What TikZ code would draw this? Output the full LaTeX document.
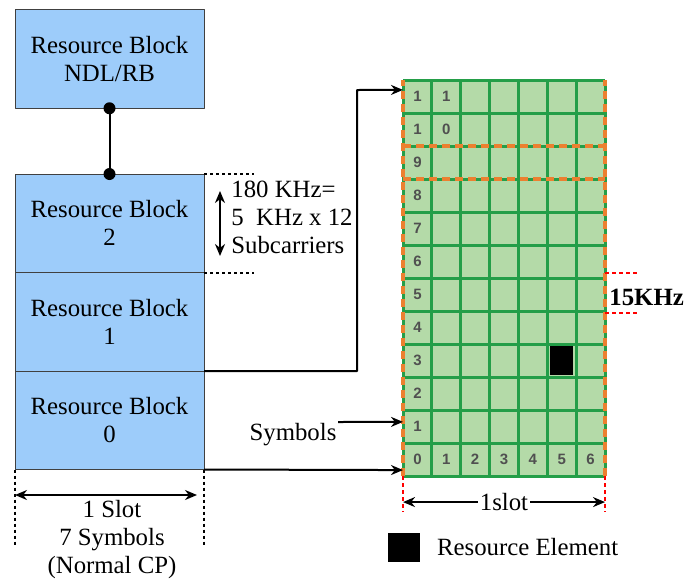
\documentclass[tikz,border=0pt]{standalone}
\usepackage{fontspec}
\setmainfont{Liberation Serif}
\newfontfamily\numfont{Liberation Sans}
\usetikzlibrary{positioning,arrows.meta}
\definecolor{rbblue}{RGB}{157,204,250}
\definecolor{cellgreen}{RGB}{180,218,168}
\definecolor{linegreen}{RGB}{36,158,72}
\definecolor{dashorange}{RGB}{236,128,48}
\definecolor{numgray}{RGB}{80,80,80}
\begin{document}
\begin{tikzpicture}[x=0.5pt, y=-0.5pt, >={Stealth[length=6pt,width=5pt]}, line join=round,
	font=\fontsize{12.4}{14}\selectfont,
	rbbox/.style={draw=black!75, fill=rbblue, minimum width=94.5pt, minimum height=49.25pt,
		inner sep=0pt, outer sep=0pt, align=center},
	conn/.style={line width=1pt},
	blackdot/.style={line width=1pt, dash pattern=on 1.5pt off 1.5pt},
	reddot/.style={red, line width=0.9pt, dash pattern=on 2pt off 1.5pt},
	orangedash/.style={dashorange, line width=1.6pt, dash pattern=on 4pt off 2.5pt},
	num/.style={text=numgray, font=\numfont\bfseries\fontsize{7.5}{7.5}\selectfont}]
	\useasboundingbox (0,0) rectangle (685,579);
	% resource blocks
	\node[rbbox] (rbn) at (109.5,59) {Resource Block\\NDL/RB};
	\node[rbbox] (rb2) at (109.5,223.25) {Resource Block\\2};
	\node[rbbox, below=0pt of rb2] (rb1) {Resource Block\\1};
	\node[rbbox, below=0pt of rb1] (rb0) {Resource Block\\0};
	\draw[conn] (rbn.south)--(rb2.north);
	\foreach \p in {rbn.south,rb2.north} \fill (\p) circle(3pt);
	% bandwidth of one block
	\draw[blackdot] (rb2.north east)--++(50,0);
	\draw[blackdot] (rb1.north east)--++(50,0);
	\path
	(220,191)coordinate(bwtop)
	(220,256)coordinate(bwbot)
	;
	\draw[conn,<->] (bwtop)--(bwbot);
	\node[anchor=west, align=left, inner sep=0pt] (bw) at (231,217) {180 KHz=\\5~~KHz x 12\\Subcarriers};
	% resource grid, one cell per unit
	\begin{scope}[shift={(403,476)}, x=14.43pt, y=16.5pt]
		\fill[cellgreen] (0,0) rectangle (7,12);
		\foreach \x in {0,...,7} \draw[linegreen, line width=1.5pt] (\x,0)--(\x,12);
		\foreach \y in {0,...,12} \draw[linegreen, line width=1.5pt] (0,\y)--(7,\y);
		\foreach \r in {0,...,9} \node[num] (row\r) at (0.5,\r+0.5) {\r};
		\foreach \c in {1,...,6} \node[num] (col\c) at (\c+0.5,0.5) {\c};
		\node[num] (row10) at (0.5,10.5) {1};
		\node[num] (row10b) at (1.5,10.5) {0};
		\node[num] (row11) at (0.5,11.5) {1};
		\node[num] (row11b) at (1.5,11.5) {1};
		\fill[black] (5.1,3.05) rectangle (5.9,3.95);
		\foreach \y in {9,10} \draw[orangedash] (0,\y)--(7,\y);
		\foreach \x in {0,7} \draw[orangedash] (\x,0)--(\x,12);
		\path
		(0,11.7)coordinate(gtop)
		(0,1.64)coordinate(gsym)
		(0,0.18)coordinate(gbot)
		(0,0)coordinate(gsw)
		(7,0)coordinate(gse)
		(0,-0.79)coordinate(slw)
		(7,-0.79)coordinate(sle)
		(7,6.15)coordinate(kup)
		(7,4.94)coordinate(kdn)
		;
	\end{scope}
	% links from the blocks to the grid
	\path
	(357,90)coordinate(turn)
	(338,422)coordinate(symtail)
	;
	\draw[conn,->] (rb1.south east)-|(turn)--(gtop);
	\draw[conn,->] (rb0.south east)--(gbot);
	\node (sym) at (293,435) {Symbols};
	\draw[conn,->] (symtail)--(gsym);
	% subcarrier spacing
	\draw[reddot] (kup)--++(33,0);
	\draw[reddot] (kdn)--++(33,0);
	\node[anchor=west, inner sep=0pt, font=\fontsize{12.4}{14}\selectfont\bfseries] (khz) at (609,297) {15KHz};
	% slot widths
	\draw[reddot] (gsw)--++(0,36);
	\draw[reddot] (gse)--++(0,36);
	\draw[conn,<->] (slw)--(sle) node[midway, fill=white, inner sep=1pt] (slotr) {1slot};
	\draw[blackdot] (rb0.south west)--++(0,78);
	\draw[blackdot] (rb0.south east)--++(0,78);
	\path
	(15,495)coordinate(sl)
	(197,495)coordinate(sr)
	;
	\draw[conn,<->] (sl)--(sr);
	\node[align=center] (slotl) at (112,540) {1 Slot\\7 Symbols\\(Normal CP)};
	% legend
	\fill[black] (388,533) rectangle (420,562);
	\node[anchor=west] (re) at (430,547) {Resource Element};
\end{tikzpicture}
\end{document}
